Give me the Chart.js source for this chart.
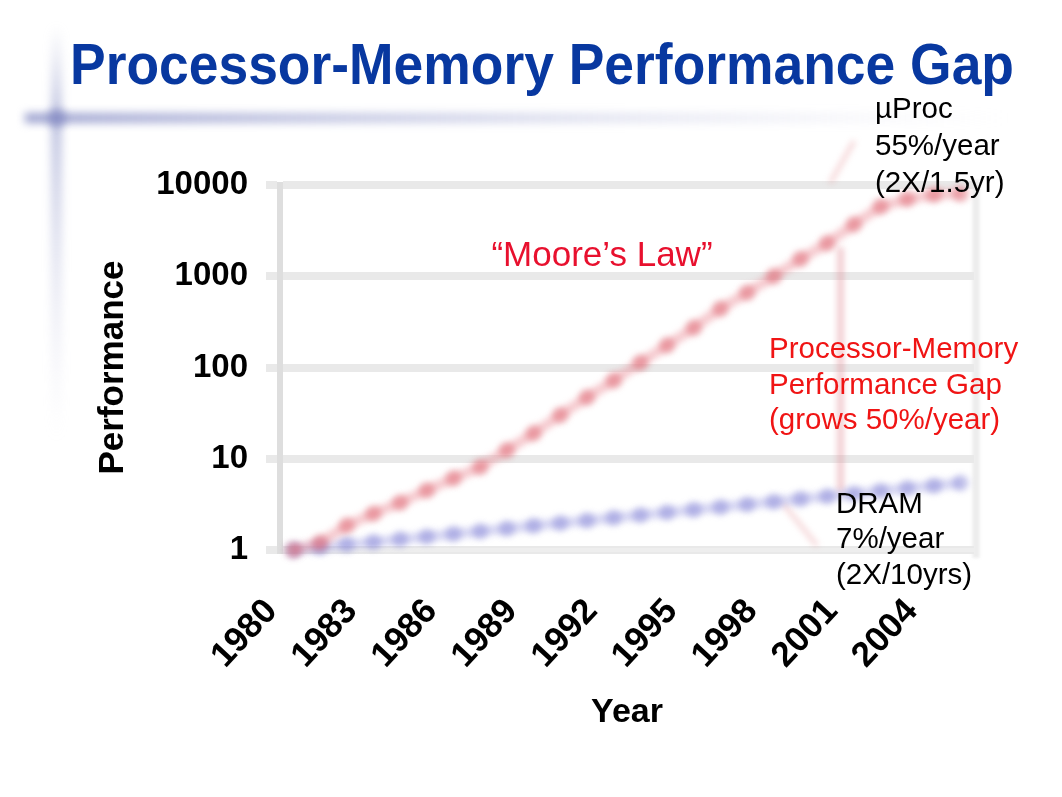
<!DOCTYPE html>
<html>
<head>
<meta charset="utf-8">
<title>Processor-Memory Performance Gap</title>
<script src="https://cdn.jsdelivr.net/npm/chart.js@4/dist/chart.umd.min.js"></script>
<style>
    html, body { margin: 0; padding: 0; background: #ffffff; }
    #wrap { width: 1062px; height: 797px; }
</style>
</head>
<body>
<div id="wrap"><canvas id="gapChart" width="1062" height="797"></canvas></div>
<script>
var years = ["1980", "1981", "1982", "1983", "1984", "1985", "1986", "1987", "1988", "1989",
    "1990", "1991", "1992", "1993", "1994", "1995", "1996", "1997", "1998", "1999",
    "2000", "2001", "2002", "2003", "2004", "2005"];
var shownYears = ["1980", "1983", "1986", "1989", "1992", "1995", "1998", "2001", "2004"];

// uProc and DRAM performance (log scale)
var procPerf = [1, 1.2, 1.85, 2.5, 3.3, 4.5, 6.1, 8.1, 12.4, 19,
    30, 47, 72, 113, 175, 272, 440, 660, 1000, 1550,
    2300, 3700, 5800, 7000, 7800, 8000];
var dramPerf = [1, 1.07, 1.15, 1.22, 1.31, 1.4, 1.5, 1.6, 1.72, 1.84,
    1.97, 2.1, 2.25, 2.41, 2.58, 2.76, 2.95, 3.16, 3.38, 3.62,
    3.87, 4.14, 4.43, 4.74, 5.07, 5.43];
var perfTicks = [1, 10, 100, 1000, 10000];

var FONT = "'Liberation Sans', Arial, sans-serif";

var slideDecor = {
    id: "slideDecor",
    beforeDraw: function (chart) {
        var ctx = chart.ctx;
        ctx.save();
        ctx.fillStyle = "#ffffff";
        ctx.fillRect(0, 0, chart.width, chart.height);
        ctx.filter = "blur(4px)";
        var h = ctx.createLinearGradient(25, 0, 1010, 0);
        h.addColorStop(0, "rgba(125,132,192,0.75)");
        h.addColorStop(0.45, "rgba(150,156,205,0.4)");
        h.addColorStop(1, "rgba(210,210,230,0)");
        ctx.fillStyle = h;
        ctx.fillRect(25, 113, 985, 10);
        var v = ctx.createLinearGradient(0, 25, 0, 440);
        v.addColorStop(0, "rgba(170,175,210,0)");
        v.addColorStop(0.22, "rgba(140,148,200,0.55)");
        v.addColorStop(1, "rgba(210,210,230,0)");
        ctx.fillStyle = v;
        ctx.fillRect(51, 25, 11, 415);
        ctx.fillStyle = "rgba(120,125,190,0.5)";
        ctx.beginPath();
        ctx.arc(57, 118, 9, 0, Math.PI * 2);
        ctx.fill();
        ctx.restore();

        // right frame line of the plot
        var a = chart.chartArea;
        ctx.save();
        ctx.filter = "blur(1.5px)";
        ctx.strokeStyle = "#ececec";
        ctx.lineWidth = 7;
        ctx.beginPath();
        ctx.moveTo(a.right + 2, a.top - 5);
        ctx.lineTo(a.right + 2, a.bottom + 8);
        ctx.stroke();
        ctx.restore();
    },
    beforeDatasetsDraw: function (chart) {
        var ctx = chart.ctx;
        var x = chart.scales.x, y = chart.scales.y;
        ctx.save();
        ctx.filter = "blur(3px)";
        // gap arrow between the two curves
        var gx = (x.getPixelForValue(20) + x.getPixelForValue(21)) / 2;
        ctx.strokeStyle = "rgba(225,140,150,0.5)";
        ctx.lineWidth = 6;
        ctx.beginPath();
        ctx.moveTo(gx, y.getPixelForValue(procPerf[20]) + 4);
        ctx.lineTo(gx, y.getPixelForValue(dramPerf[20]) - 4);
        ctx.stroke();
        // pointer to uProc label
        var px = x.getPixelForValue(20) + 3;
        var py = y.getPixelForValue(10000);
        ctx.lineWidth = 4;
        ctx.strokeStyle = "rgba(230,150,155,0.45)";
        ctx.beginPath();
        ctx.moveTo(px, py - 2);
        ctx.lineTo(px + 24, py - 44);
        ctx.stroke();
        // pointer to DRAM label
        var dx = (x.getPixelForValue(18) + x.getPixelForValue(19)) / 2;
        var dy = y.getPixelForValue(dramPerf[18]);
        ctx.beginPath();
        ctx.moveTo(dx - 4, dy + 2);
        ctx.lineTo(dx + 30, dy + 44);
        ctx.stroke();
    },
    afterDatasetsDraw: function (chart) {
        chart.ctx.restore();
    },
    afterDraw: function (chart) {
        var ctx = chart.ctx;
        ctx.save();
        ctx.textBaseline = "middle";
        ctx.textAlign = "left";
        ctx.font = "29.5px " + FONT;
        ctx.fillStyle = "#000000";
        ctx.fillText("\u00b5Proc", 875, 110);
        ctx.fillText("55%/year", 875, 147);
        ctx.fillText("(2X/1.5yr)", 875, 184);
        ctx.fillText("DRAM", 836, 505);
        ctx.fillText("7%/year", 836, 540);
        ctx.fillText("(2X/10yrs)", 836, 576);
        ctx.fillStyle = "#f01414";
        ctx.fillText("Processor-Memory", 769, 350);
        ctx.fillText("Performance Gap", 769, 386);
        ctx.fillText("(grows 50%/year)", 769, 421);
        ctx.textAlign = "center";
        ctx.font = "35px " + FONT;
        ctx.fillStyle = "#e8102e";
        ctx.fillText("\u201cMoore\u2019s Law\u201d", 602, 256);
        ctx.restore();
    }
};

new Chart("gapChart", {
    type: "line",
    data: {
        labels: years,
        datasets: [{
            label: "\u00b5Proc",
            data: procPerf,
            borderColor: "rgba(235,140,150,0.45)",
            borderWidth: 10,
            pointRadius: 8,
            pointBorderWidth: 0,
            pointBackgroundColor: "rgba(222,100,112,0.5)",
            tension: 0,
            clip: false
        }, {
            label: "DRAM",
            data: dramPerf,
            borderColor: "rgba(155,155,225,0.4)",
            borderWidth: 10,
            pointRadius: 8,
            pointBorderWidth: 0,
            pointBackgroundColor: "rgba(120,120,210,0.42)",
            tension: 0,
            clip: false
        }]
    },
    options: {
        responsive: false,
        animation: false,
        layout: {
            // wide enough for the slide title; plot right edge comes from x paddingRight
            padding: { left: 70, right: 48, top: 0, bottom: 0 }
        },
        plugins: {
            legend: { display: false },
            tooltip: { enabled: false },
            title: {
                display: true,
                text: "Processor-Memory Performance Gap",
                color: "#0838a0",
                font: { family: FONT, size: 57.5, weight: "bold" },
                padding: { top: 33.5, bottom: 82.5 }
            }
        },
        scales: {
            x: {
                type: "category",
                offset: true,
                grid: { display: false },
                border: { display: true, color: "#eeeeee", width: 4 },
                ticks: {
                    autoSkip: false,
                    maxRotation: 47,
                    minRotation: 47,
                    padding: 33,
                    labelOffset: -22,
                    color: "#000000",
                    font: { family: FONT, size: 35, weight: "bold" },
                    callback: function (val, i) {
                        var lab = years[i];
                        return shownYears.indexOf(lab) >= 0 ? lab : "";
                    }
                },
                title: {
                    display: true,
                    text: "Year",
                    color: "#000000",
                    font: { family: FONT, size: 34, weight: "bold" },
                    padding: { top: 4, bottom: 64 }
                },
                afterFit: function (scale) {
                    scale.height = 247;
                    scale.paddingLeft = 0;
                    scale.paddingRight = 88;
                }
            },
            y: {
                type: "logarithmic",
                min: 1,
                max: 10000,
                grid: {
                    color: "#e9e9e9",
                    lineWidth: 8,
                    tickLength: 14
                },
                border: { display: true, color: "#dedede", width: 6 },
                ticks: {
                    padding: 18,
                    color: "#000000",
                    font: { family: FONT, size: 33, weight: "bold" },
                    callback: function (v) { return String(v); }
                },
                afterBuildTicks: function (scale) {
                    scale.ticks = perfTicks.map(function (v) { return { value: v }; });
                },
                title: {
                    display: true,
                    text: "Performance",
                    color: "#000000",
                    font: { family: FONT, size: 35, weight: "bold" },
                    padding: { top: 22, bottom: 0 }
                },
                afterFit: function (scale) {
                    scale.width = 210;
                    scale.paddingTop = 0;
                    scale.paddingBottom = 0;
                }
            }
        }
    },
    plugins: [slideDecor]
});
</script>
</body>
</html>
